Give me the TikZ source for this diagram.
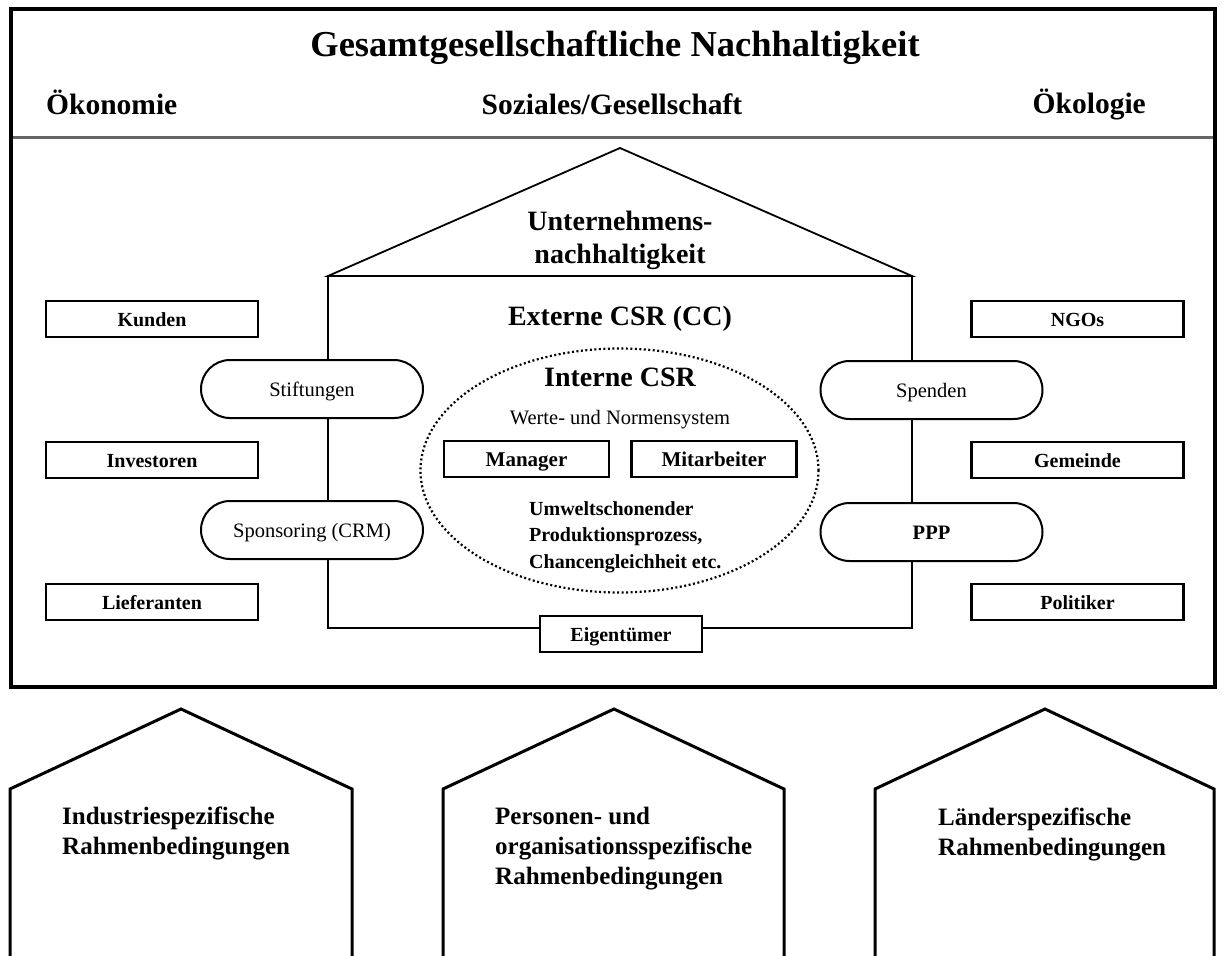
\documentclass[tikz,border=0pt]{standalone}
\usepackage{fontspec}
\setmainfont{Liberation Serif}
\usetikzlibrary{shapes.misc,shapes.geometric}

\tikzset{
	headtitle/.style={anchor=base,inner sep=0pt,font=\fontsize{36.5}{40}\selectfont\bfseries},
	headlabel/.style={anchor=base,inner sep=0pt,font=\fontsize{29.5}{32}\selectfont\bfseries},
	midtitle/.style={inner sep=0pt,font=\fontsize{28}{33}\selectfont\bfseries},
	plaintext/.style={inner sep=0pt,font=\fontsize{20.5}{24}\selectfont},
	bodytext/.style={inner sep=0pt,font=\fontsize{20}{26.5}\selectfont\bfseries},
	stakebox/.style={draw,line width=2.5pt,fill=white,minimum width=212pt,minimum height=36pt,inner sep=0pt,text height=18pt,text depth=3pt,font=\fontsize{20}{24}\selectfont\bfseries},
	innerbox/.style={stakebox,minimum width=165pt,font=\fontsize{21}{24}\selectfont\bfseries},
	pill/.style={rounded rectangle,draw,line width=2pt,fill=white,minimum width=222pt,minimum height=58pt,inner sep=0pt,text height=18pt,text depth=3pt,font=\fontsize{20.5}{24}\selectfont},
	housetext/.style={anchor=west,align=left,inner sep=0pt,font=\fontsize{25}{30}\selectfont\bfseries},
	house/.style={line width=3pt,line join=miter}
}

\begin{document}
\begin{tikzpicture}[x=1pt,y=-1pt]
	\useasboundingbox (0,0) rectangle (1224,956);
	\draw[line width=4pt] (11,9) rectangle (1215,687);
	\draw[line width=3pt,color=gray!80!black] (13,137) -- (1213,137);
	\node[headtitle] (title) at (615,56) {Gesamtgesellschaftliche Nachhaltigkeit};
	\node[headlabel,anchor=base west] (oekonomie) at (46,114) {Ökonomie};
	\node[headlabel] (soziales) at (612,114) {Soziales/Gesellschaft};
	\node[headlabel,anchor=base east] (oekologie) at (1146,113) {Ökologie};

	\draw[line width=1.8pt] (328,276) -- (620,148) -- (912,276) -- cycle;
	\draw[line width=1.8pt] (328,276) rectangle (912,628);
	\node[midtitle,align=center] (unternehmen) at (620,240) {Unternehmens-\\nachhaltigkeit};
	\node[midtitle,anchor=base] (extern) at (620,325) {Externe CSR (CC)};

	\node[ellipse,draw,line width=2.2pt,dash pattern=on 2pt off 2.5pt,minimum width=398pt,minimum height=244pt] (intern) at (619.5,470.5) {};
	\node[midtitle,anchor=base] (interntitle) at (620,386) {Interne CSR};
	\node[plaintext,anchor=base] (werte) at (620,424) {Werte- und Normensystem};
	\node[innerbox] (manager) at (526.5,459) {Manager};
	\node[innerbox] (mitarbeiter) at (714,459) {Mitarbeiter};
	\node[bodytext,align=left,anchor=west] (beispiele) at (529,537) {Umweltschonender\\Produktionsprozess,\\Chancengleichheit etc.};
	\node[stakebox,minimum width=162pt] (eigentuemer) at (621,634) {Eigentümer};

	\node[stakebox] (kunden) at (152,319) {Kunden};
	\node[stakebox] (investoren) at (152,460) {Investoren};
	\node[stakebox] (lieferanten) at (152,602) {Lieferanten};
	\node[stakebox] (ngos) at (1077.5,319) {NGOs};
	\node[stakebox] (gemeinde) at (1077.5,460) {Gemeinde};
	\node[stakebox] (politiker) at (1077.5,602) {Politiker};

	\node[pill] (stiftungen) at (312,389) {Stiftungen};
	\node[pill] (sponsoring) at (312,530) {Sponsoring (CRM)};
	\node[pill] (spenden) at (931.5,390) {Spenden};
	\node[pill,font=\fontsize{20.5}{24}\selectfont\bfseries] (ppp) at (931.5,532) {PPP};

	\draw[house] (10,958) -- (10,789) -- (181,709) -- (352,789) -- (352,958);
	\draw[house] (443,958) -- (443,789) -- (614,709) -- (784,789) -- (784,958);
	\draw[house] (875,958) -- (875,789) -- (1045,709) -- (1214,789) -- (1214,958);
	\node[housetext] (industrie) at (62,833) {Industriespezifische\\Rahmenbedingungen};
	\node[housetext] (personen) at (495,849) {Personen- und\\organisationsspezifische\\Rahmenbedingungen};
	\node[housetext] (laender) at (938,834) {Länderspezifische\\Rahmenbedingungen};
\end{tikzpicture}
\end{document}
